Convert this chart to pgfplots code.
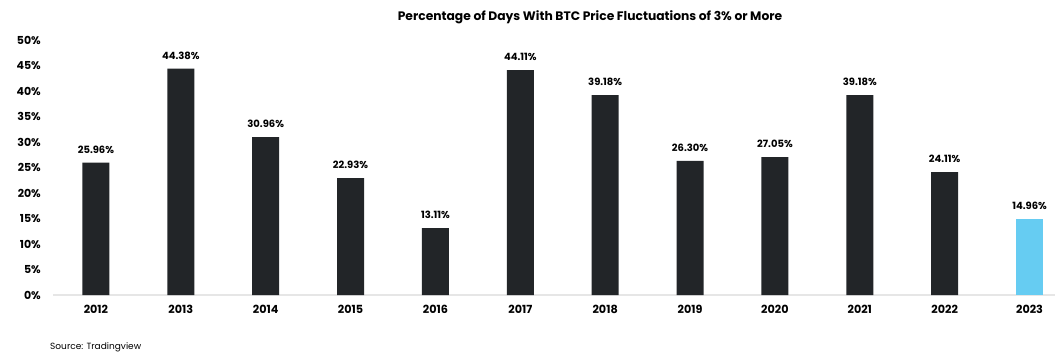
\documentclass[border=0pt]{standalone}
\usepackage{pgfplots}
\pgfplotsset{compat=1.18}
\usepackage{fontspec}
\setmainfont{Poppins}
\definecolor{barDark}{HTML}{222528}
\definecolor{barBlue}{HTML}{66CCF2}
\definecolor{axGray}{HTML}{E6E6E6}
\begin{document}
\begin{tikzpicture}
\useasboundingbox (-53pt,-62pt) rectangle (1004pt,295pt);
\begin{axis}[
  at={(0pt,0pt)}, anchor=south west,
  scale only axis, width=1002pt, height=255pt,
  xmin=-0.506, xmax=11.3, ymin=0, ymax=50,
  ybar, bar width=27pt, bar shift=0pt,
  axis x line=bottom, axis y line=left,
  x axis line style={axGray, line width=1.5pt, -},
  y axis line style={draw=none},
  major tick length=0pt,
  xtick={0,...,11},
  xticklabels={2012,2013,2014,2015,2016,2017,2018,2019,2020,2021,2022,2023},
  ytick={0,5,...,50},
  yticklabels={0\%,5\%,10\%,15\%,20\%,25\%,30\%,35\%,40\%,45\%,50\%},
  xticklabel style={font=\bfseries\fontsize{11.2}{13}\selectfont, inner sep=0pt, yshift=-10pt},
  yticklabel style={font=\bfseries\fontsize{11}{13}\selectfont, inner sep=0pt, xshift=-12pt},
  /pgf/number format/assume math mode=true,
  nodes near coords={\pgfmathprintnumber[fixed,fixed zerofill,precision=2]{\pgfplotspointmeta}\%},
  nodes near coords style={font=\bfseries\fontsize{10}{12}\selectfont, inner sep=0pt, yshift=9pt, text=black},
  clip=false,
]
\addplot[fill=barDark, draw=none] coordinates {
  (0,25.96) (1,44.38) (2,30.96) (3,22.93) (4,13.11) (5,44.11)
  (6,39.18) (7,26.30) (8,27.05) (9,39.18) (10,24.11)
};
\addplot[fill=barBlue, draw=none] coordinates {(11,14.96)};
\end{axis}
\node at (537pt,278pt) {\bfseries\fontsize{12.3}{14}\selectfont Percentage of Days With BTC Price Fluctuations of 3\% or More};
\node[anchor=west, inner sep=0pt] at (-3pt,-52pt) {\fontsize{9}{11}\selectfont Source: Tradingview};
\end{tikzpicture}
\end{document}
